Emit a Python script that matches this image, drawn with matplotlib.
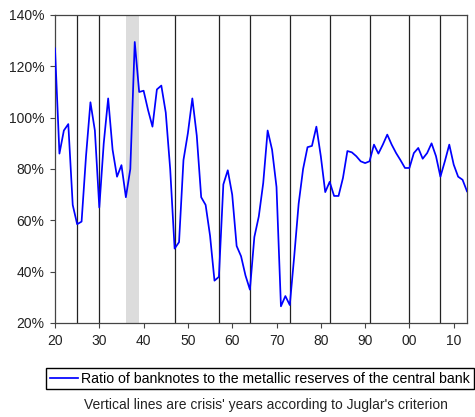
import matplotlib
matplotlib.use("Agg")
import matplotlib.pyplot as plt
from matplotlib.ticker import FuncFormatter

plt.rcParams['font.family'] = ['Liberation Sans', 'DejaVu Sans']

# annual data 1820-1913, ratio in %
years = list(range(1820, 1914))
ratio = [127, 86, 95, 97.5, 66, 58.5, 59.5, 85, 106, 95,
         65, 90, 107.5, 87.5, 77, 81.5, 69, 80, 129.5, 110,
         110.5, 103, 96.5, 111, 112.5, 102, 80, 49, 51.5, 83.5,
         94, 107.5, 93, 69, 66, 54, 36.5, 38, 74, 79.5,
         70, 50, 46, 38.5, 33, 53.5, 61.5, 74.5, 95, 87.5,
         73, 26.5, 30.5, 27, 46, 66.5, 80, 88.5, 89, 96.5,
         85, 71, 75, 69.5, 69.5, 76.5, 87, 86.5, 85, 83,
         82.3, 83, 89.5, 86, 89.5, 93.4, 89.5, 86.2, 83.4, 80.4,
         80.4, 86.2, 88.2, 84, 86.2, 90, 85, 77, 83, 89.5,
         81.7, 77, 75.8, 71.3]

crisis_years = [1825, 1830, 1847, 1857, 1864, 1873, 1882, 1891, 1900, 1907]
crisis_band = (1836, 1839)

xticks = list(range(1820, 1920, 10))
xlabels = ['20', '30', '40', '50', '60', '70', '80', '90', '00', '10']

fig = plt.figure(figsize=(4.75, 4.17), dpi=100)
ax = fig.add_axes([55/475, 1 - 323/417, (467 - 55)/475, (323 - 15)/417])

ax.axvspan(crisis_band[0], crisis_band[1], color='#dcdcdc', lw=0, zorder=1)
for yr in crisis_years:
    ax.axvline(yr, color='#222222', lw=0.9, zorder=2)

line, = ax.plot(years, ratio, color='#0000ff', lw=1.25, zorder=3,
                label='Ratio of banknotes to the metallic reserves of the central bank')

ax.set_xlim(1820, 1913)
ax.set_ylim(20, 140)
ax.set_yticks([20, 40, 60, 80, 100, 120, 140])
ax.yaxis.set_major_formatter(FuncFormatter(lambda v, p: f'{v:.0f}%'))
ax.set_xticks(xticks)
ax.set_xticklabels(xlabels)

for s in ax.spines.values():
    s.set_color('#444444')
    s.set_linewidth(0.9)
ax.tick_params(axis='both', direction='out', length=3.6, width=0.8, color='#444444',
               labelsize=10, labelcolor='#222222', pad=4)

fig.legend(handles=[line], loc='upper left', bbox_to_anchor=(46/475, 1 - 368/417),
           frameon=True, fancybox=False, edgecolor='black', framealpha=1,
           fontsize=10.2, handlelength=2.0, handletextpad=0.25, borderpad=0.25,
           borderaxespad=0)

fig.text(266/475, 1 - 405/417, "Vertical lines are crisis' years according to Juglar's criterion",
         ha='center', va='center', fontsize=10, color='#222222')

fig.savefig('out.png', dpi=100)
